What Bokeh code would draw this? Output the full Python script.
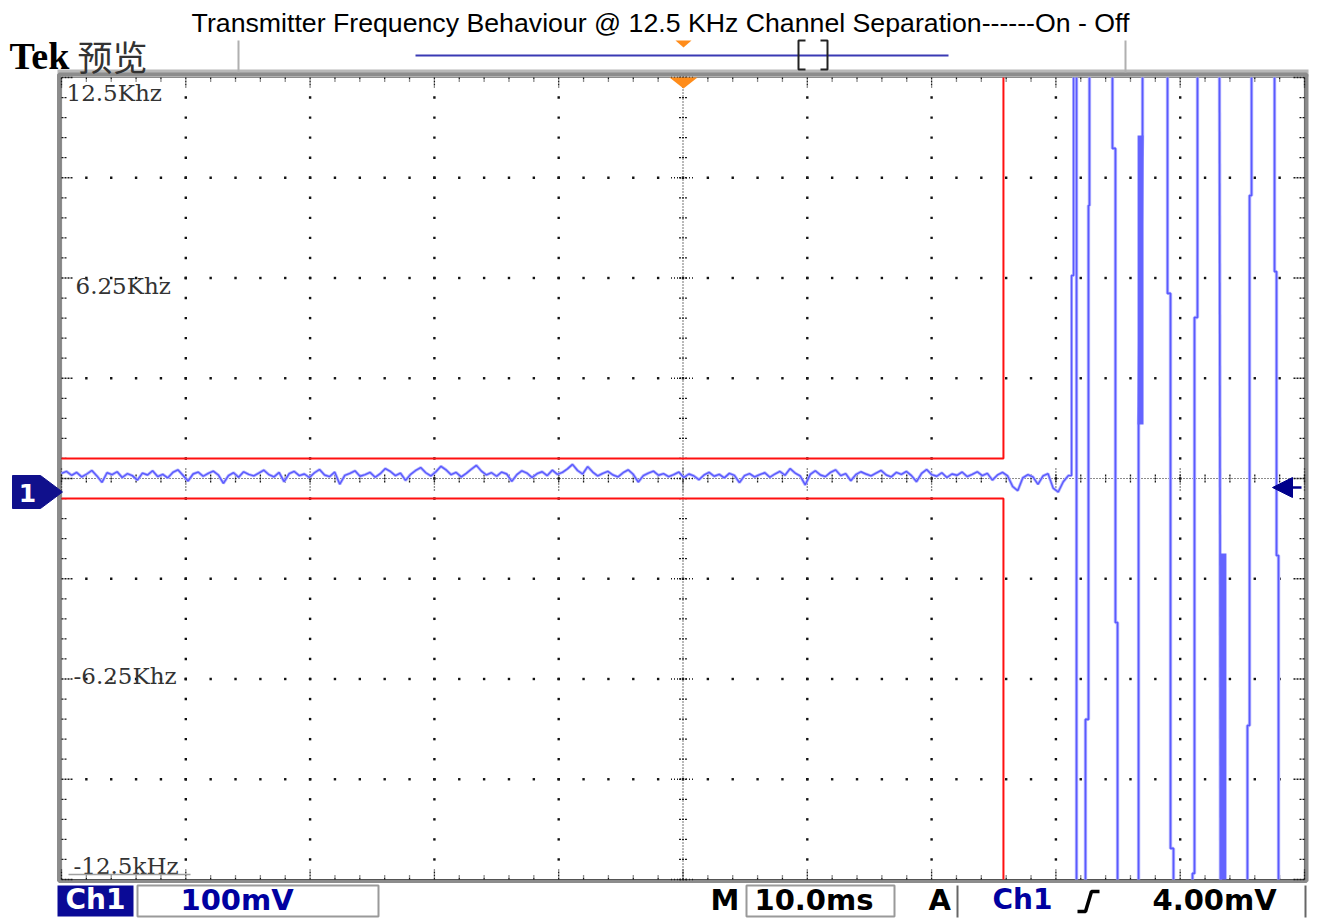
import numpy as np
from bokeh.plotting import figure
from bokeh.models import Range1d
from bokeh.core.properties import value
from bokeh.embed import file_html
from bokeh.resources import INLINE

# ---------------- data ----------------
TITLE = "Transmitter Frequency Behaviour @ 12.5 KHz Channel Separation------On - Off"

time_per_div_ms = 10.0          # M 10.0ms
n_xdiv = 10
freq_per_div_khz = 3.125
n_ydiv = 8
y_label_vals = [12.5, 6.25, -6.25, -12.5]
y_label_text = ["12.5Khz", "6.25Khz", "-6.25Khz", "-12.5kHz"]

# red frequency mask (+/- 0.625 kHz until transmitter off)
mask_end_ms = 75.78
mask_half_khz = 0.625

# frequency error trace while transmitter is on (kHz)
noise_khz = [
    0.16, 0.22, 0.10, 0.19, 0.05, 0.14, 0.25, 0.08, -0.12, 0.18, 0.12, 0.21, 0.03, 0.15, 0.09, -0.05, 0.17, 0.11, 0.24, 0.06,
    0.13, 0.02, 0.19, 0.27, 0.10, -0.08, 0.14, 0.20, 0.07, 0.16, 0.23, 0.11, -0.15, 0.09, 0.18, 0.04, 0.21, 0.13, 0.08, 0.17,
    0.26, 0.12, 0.05, 0.19, -0.10, 0.15, 0.22, 0.09, 0.14, 0.03, 0.18, 0.28, 0.11, 0.06, 0.20, -0.18, 0.10, 0.16, 0.24, 0.07,
    0.12, 0.19, 0.04, 0.15, 0.31, 0.22, 0.09, 0.17, -0.06, 0.13, 0.25, 0.34, 0.18, 0.08, 0.21, 0.38, 0.27, 0.12, 0.19, 0.05,
    0.16, 0.29, 0.41, 0.23, 0.11, 0.18, 0.07, 0.20, 0.14, -0.09, 0.12, 0.24, 0.17, 0.03, 0.15, 0.21, 0.09, 0.26, 0.13, 0.19,
    0.30, 0.44, 0.25, 0.14, 0.37, 0.20, 0.08, 0.16, 0.22, 0.11, 0.05, 0.18, 0.27, 0.13, -0.11, 0.09, 0.17, 0.23, 0.10, 0.15,
    0.06, 0.12, 0.20, 0.03, 0.14, 0.08, -0.04, 0.11, 0.19, 0.07, 0.13, 0.02, 0.16, 0.10, -0.13, 0.09, 0.15, 0.05, 0.12, 0.18,
    0.04, 0.14, 0.22, 0.10, 0.31, 0.17, 0.08, -0.20, 0.13, 0.24, 0.11, 0.06, 0.19, 0.27, 0.09, 0.15, -0.07, 0.12, 0.21, 0.14,
    0.08, 0.17, 0.25, 0.11, 0.05, 0.19, 0.13, 0.22, 0.09, -0.10, 0.16, 0.28, 0.12, 0.07, 0.18, 0.03, 0.14, 0.10, 0.20, 0.06,
    0.13, 0.21, 0.09, 0.16, -0.05, 0.11, 0.19, 0.08, -0.25, -0.38, 0.02, 0.12, 0.05, -0.18, 0.08, 0.15, -0.30, -0.42, -0.10, 0.09,
]
noise_start_ms = 0.0
noise_end_ms = 81.0

# rising edge when the carrier switches off
edge_x = [81.26, 81.26, 81.42, 81.42]
edge_y = [0.09, 6.33, 6.33, 12.5]

# off-state full-scale sweeps (ms, kHz)
burst_xs = [
    [81.66, 81.66],
    [82.70, 82.70, 82.62, 82.62, 82.38, 82.38],
    [84.55, 84.55, 84.79, 84.79, 84.96, 84.96],
    [86.97, 86.97, 86.65, 86.65],
    [88.98, 88.98, 89.22, 89.22, 89.46, 89.46],
    [91.39, 91.39, 91.15, 91.15, 90.99, 90.99],
    [93.16, 93.24],
    [95.74, 95.74, 95.58, 95.58, 95.41, 95.41],
    [97.59, 97.59, 97.75, 97.75, 97.91, 97.91],
]
burst_ys = [
    [12.5, -12.5],
    [12.5, 8.51, 8.51, -7.51, -7.51, -12.5],
    [12.5, 10.29, 10.29, -4.49, -4.49, -12.5],
    [12.5, 10.69, 1.68, -12.5],
    [12.5, 5.77, 5.77, -11.53, -11.53, -12.5],
    [12.5, 5.02, 5.02, -12.31, -12.31, -12.5],
    [12.5, -12.5],
    [12.5, 8.82, 8.82, -7.70, -7.70, -12.5],
    [12.5, 6.45, 6.45, -2.40, -2.40, -12.5],
]
block_left = [86.57, 93.20]
block_right = [87.05, 93.72]
block_top = [10.69, -2.34]
block_bottom = [1.68, -12.5]

status_ch = "Ch1"
status_volts = "100mV"
status_time = "10.0ms"
status_trig_level = "4.00mV"

# ---------------- layout (screen geometry) ----------------
W, H = 1319, 918
GX0, GX1 = 61.0, 1304.0     # graticule left/right (px)
GY0, GY1 = 77.0, 879.0      # graticule top/bottom (px)
x_total = n_xdiv * time_per_div_ms
y_top = n_ydiv * freq_per_div_khz / 2
pxx = (GX1 - GX0) / x_total         # px per ms
pxy = (GY1 - GY0) / (2 * y_top)     # px per kHz

p = figure(width=W, height=H, output_backend="svg", toolbar_location=None, tools="",
           x_axis_location=None, y_axis_location=None, min_border=0,
           x_range=Range1d(-GX0 / pxx, x_total + (W - GX1) / pxx),
           y_range=Range1d(-y_top - (H - GY1) / pxy, y_top + GY0 / pxy),
           background_fill_color="white", border_fill_color="white", outline_line_color=None)
p.grid.visible = False
p.extra_x_ranges = {"px": Range1d(0, W)}
p.extra_y_ranges = {"py": Range1d(H, 0)}
PX = dict(x_range_name="px", y_range_name="py")

dx = 1.0 / pxx   # one pixel in ms
dy = 1.0 / pxy   # one pixel in kHz

# ---------------- frame ----------------
p.quad(left=[57], right=[1308], top=[69], bottom=[76], fill_color="#b8b8b8", line_color=None, **PX)
p.quad(left=[58.5], right=[1306], top=[74], bottom=[880.5], fill_color=None,
       line_color="#8c8c8c", line_width=4, **PX)

# ---------------- graticule ----------------
xs_major = [i * time_per_div_ms for i in range(n_xdiv + 1)]
xs_minor = [i * time_per_div_ms / 5 for i in range(n_xdiv * 5 + 1)]
ys_major = [-y_top + j * freq_per_div_khz for j in range(n_ydiv + 1)]
ys_minor = [-y_top + j * freq_per_div_khz / 5 for j in range(n_ydiv * 5 + 1)]
xc, yc = x_total / 2, 0.0

dot_x, dot_y = [], []
for xm in xs_major[1:-1]:
    if abs(xm - xc) < 1e-9:
        continue
    for ym in ys_minor[1:-1]:
        dot_x.append(xm); dot_y.append(ym)
for ym in ys_major[1:-1]:
    if abs(ym - yc) < 1e-9:
        continue
    for xm in xs_minor[1:-1]:
        dot_x.append(xm); dot_y.append(ym)
p.scatter(dot_x, dot_y, marker="square", size=2.4, fill_color="#111111", line_color=None)

GRID = "#1a1a1a"
# centre cross
p.line([0, x_total], [yc, yc], line_color=GRID, line_width=1.2, line_dash="1 2")
p.line([xc, xc], [-y_top, y_top], line_color=GRID, line_width=1.2, line_dash="1 2")
tx, ty = [], []
for xm in xs_minor:
    tx.append([xm, xm]); ty.append([yc - 4 * dy, yc + 4 * dy])
for ym in ys_minor:
    tx.append([xc - 4 * dx, xc + 4 * dx]); ty.append([ym, ym])
# edges
for xm in xs_minor:
    L = 10 if xm in xs_major else 4
    tx.append([xm, xm]); ty.append([y_top, y_top - L * dy])
    tx.append([xm, xm]); ty.append([-y_top, -y_top + L * dy])
for ym in ys_minor:
    L = 12 if ym in ys_major else 5
    tx.append([0, L * dx]); ty.append([ym, ym])
    tx.append([x_total, x_total - L * dx]); ty.append([ym, ym])
p.multi_line(tx, ty, line_color=GRID, line_width=1.3, line_dash="2 1")
mx, my = [], []
for xm in xs_major:
    mx.append([xm, xm]); my.append([yc - 12 * dy, yc + 12 * dy])
for ym in ys_major:
    mx.append([xc - 12 * dx, xc + 12 * dx]); my.append([ym, ym])
p.multi_line(mx, my, line_color=GRID, line_width=1.3, line_dash="1 2")
p.multi_line([[0, x_total, x_total, 0, 0]], [[y_top, y_top, -y_top, -y_top, y_top]],
             line_color=GRID, line_width=1.2, line_dash="1 1")

# y labels
p.text(x=[66, 75, 73, 73], y=[92, 285, 675, 865], text=y_label_text,
       text_font=value("DejaVu Serif"), text_font_size="23px", text_color="#333333",
       text_baseline="middle", text_align="left", **PX)
p.line([68, 190], [874, 874], line_color="#a0a0a0", line_width=1.5, **PX)

# ---------------- mask ----------------
p.multi_line([[0, mask_end_ms, mask_end_ms], [0, mask_end_ms, mask_end_ms]],
             [[mask_half_khz, mask_half_khz, y_top], [-mask_half_khz, -mask_half_khz, -y_top]],
             line_color="#ff1010", line_width=2)

# ---------------- trace ----------------
trace_t = list(np.linspace(noise_start_ms, noise_end_ms, len(noise_khz))) + edge_x
trace_f = list(noise_khz) + edge_y
HALO, CORE = "#b4b4ff", "#5a5aff"
p.line(trace_t, trace_f, line_color=HALO, line_width=3.0)
p.multi_line(burst_xs, burst_ys, line_color=HALO, line_width=3.4)
p.line(trace_t, trace_f, line_color=CORE, line_width=1.4)
p.multi_line(burst_xs, burst_ys, line_color=CORE, line_width=1.6)
p.quad(left=block_left, right=block_right, top=block_top, bottom=block_bottom,
       fill_color="#6464ff", line_color=None)

# ---------------- markers ----------------
p.patch([12, 40, 62, 40, 12], [475, 475, 491.5, 508, 508], fill_color="#10108c",
        line_color="#10108c", **PX)
p.text(x=[27], y=[492], text=["1"], text_font=value("DejaVu Sans"), text_font_style="bold",
       text_font_size="25px", text_color="white", text_align="center", text_baseline="middle", **PX)
p.patch([1272, 1292, 1292], [487, 477, 497], fill_color="#00008b", line_color="#00008b", **PX)
p.line([1290, 1301], [487, 487], line_color="#00008b", line_width=2.5, **PX)
p.patch([669, 697, 683], [77, 77, 88], fill_color="#ff8c1a", line_color=None, **PX)

# ---------------- header ----------------
p.text(x=[660], y=[22], text=[TITLE], text_font=value("Liberation Sans"), text_font_size="26.7px",
       text_color="black", text_align="center", text_baseline="middle", **PX)
p.text(x=[9], y=[55], text=["Tek"], text_font=value("Liberation Serif"), text_font_style="bold",
       text_font_size="38px", text_color="black", text_align="left", text_baseline="middle", **PX)
p.text(x=[77], y=[55], text=["预览"], text_font=value("Noto Sans CJK SC"),
       text_font_size="35px", text_color="#333333", text_align="left", text_baseline="middle", **PX)
p.multi_line([[238, 238], [1125, 1125]], [[40, 72], [40, 72]], line_color="#b0b0b0", line_width=2, **PX)
p.line([415, 948], [55, 55], line_color="#3a3ab4", line_width=2, **PX)
p.patch([675, 691, 683], [40, 40, 47], fill_color="#ff8c1a", line_color=None, **PX)
p.multi_line([[805, 798, 798, 805], [820, 827, 827, 820]], [[40, 40, 69, 69], [40, 40, 69, 69]],
             line_color="#222222", line_width=2, **PX)

# ---------------- status bar ----------------
SF = value("DejaVu Sans")
SS = "29px"
SY = 899
p.quad(left=[57], right=[133], top=[885], bottom=[916], fill_color="#0a0a96", line_color=None, **PX)
p.text(x=[95], y=[SY], text=[status_ch], text_font=SF, text_font_style="bold", text_font_size="28px",
       text_color="white", text_align="center", text_baseline="middle", **PX)
p.quad(left=[137, 746], right=[378, 894], top=[885, 885], bottom=[916, 916], fill_color=None,
       line_color="#9a9a9a", line_width=2, **PX)
p.text(x=[180], y=[SY], text=[status_volts], text_font=SF, text_font_style="bold", text_font_size=SS,
       text_color="#0000a0", text_align="left", text_baseline="middle", **PX)
p.text(x=[710], y=[SY], text=["M"], text_font=SF, text_font_style="bold", text_font_size=SS,
       text_color="black", text_align="left", text_baseline="middle", **PX)
p.text(x=[754], y=[SY], text=[status_time], text_font=SF, text_font_style="bold", text_font_size=SS,
       text_color="black", text_align="left", text_baseline="middle", **PX)
p.text(x=[928], y=[SY], text=["A"], text_font=SF, text_font_style="bold", text_font_size=SS,
       text_color="black", text_align="left", text_baseline="middle", **PX)
p.text(x=[992], y=[SY], text=[status_ch], text_font=SF, text_font_style="bold", text_font_size="28px",
       text_color="#0000a0", text_align="left", text_baseline="middle", **PX)
p.line([1077, 1085, 1091, 1099], [911, 911, 891, 891], line_color="black", line_width=3.5, **PX)
p.text(x=[1152], y=[SY], text=[status_trig_level], text_font=SF, text_font_style="bold", text_font_size=SS,
       text_color="black", text_align="left", text_baseline="middle", **PX)
p.multi_line([[957, 957], [1305, 1305]], [[885, 917], [885, 917]], line_color="#666666",
             line_width=2, **PX)

open("out.html", "w").write(file_html(p, INLINE))
